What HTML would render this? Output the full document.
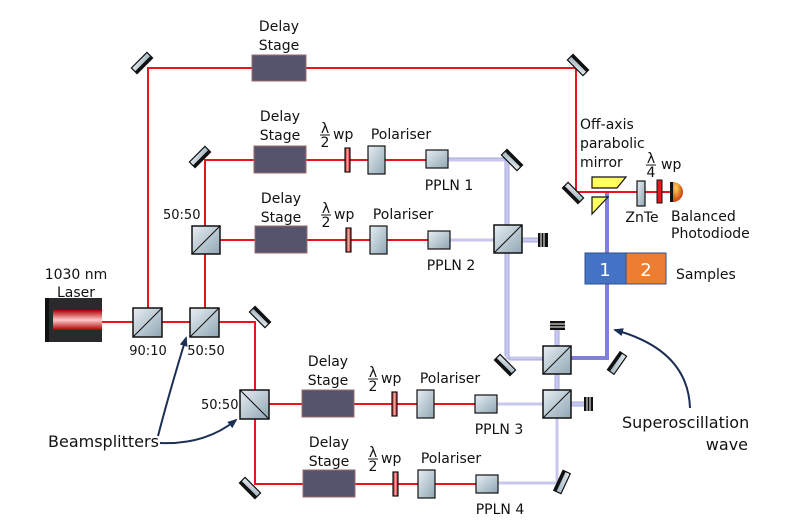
<!DOCTYPE html>
<html><head><meta charset="utf-8"><style>html,body{margin:0;padding:0;background:#fff}svg{display:block}text{font-family:"DejaVu Sans","Liberation Sans",sans-serif;font-size:14px;fill:#111}</style></head><body>
<svg width="797" height="532" viewBox="0 0 797 532" xmlns="http://www.w3.org/2000/svg">
<defs>
<linearGradient id="g" x1="0" y1="0" x2="1" y2="1"><stop offset="0" stop-color="#e8eef2"/><stop offset="1" stop-color="#8fa6b4"/></linearGradient>
<linearGradient id="r" x1="0" y1="0" x2="1" y2="0"><stop offset="0" stop-color="#b00"/><stop offset=".5" stop-color="#ffb0b0"/><stop offset="1" stop-color="#b00"/></linearGradient>
<linearGradient id="las" x1="0" y1="0" x2="0" y2="1"><stop offset="0" stop-color="#a00"/><stop offset=".5" stop-color="#ffc8c8"/><stop offset="1" stop-color="#a00"/></linearGradient>
<radialGradient id="pd" cx=".3" cy=".3" r=".8"><stop offset="0" stop-color="#ffd060"/><stop offset="1" stop-color="#c03000"/></radialGradient>
<marker id="ar" markerWidth="10" markerHeight="8" refX="8" refY="4" orient="auto" markerUnits="userSpaceOnUse"><path d="M0,0 L10,4 L0,8 Z" fill="#1b2f55"/></marker>
<g id="mir"><rect x="-11" y="-4" width="22" height="8" fill="url(#g)" stroke="#111" stroke-width="1.2"/><rect x="-11" y="1" width="22" height="3" fill="#111"/></g>
</defs>
<!-- lavender beams -->
<g stroke="#c8c8ec" stroke-width="3" fill="none">
<path d="M448,160 H507 V358 H545"/><path d="M450,240 H540"/><path d="M497,404 H585"/><path d="M498,483 H557 V418"/><path d="M557,374 V390"/><path d="M557,346 V330"/>
</g>
<g stroke="#a8a8e0" stroke-width="1" fill="none">
<path d="M448,158 H505 V356"/><path d="M509,162 V360 H545"/><path d="M522,238 H540 M522,242 H540"/><path d="M571,402 H585 M571,406 H585"/><path d="M555,374 V390 M559,374 V390"/><path d="M555,346 V330 M559,346 V330"/>
</g>
<path d="M571,358 H607 V192" stroke="#8080d8" stroke-width="4" fill="none"/>
<!-- red beams -->
<g stroke="#e8141e" stroke-width="2" fill="none">
<path d="M102,322 H255 V484 H303"/><path d="M148,322 V68 H576 V192 H672"/><path d="M205,322 V160 H426"/><path d="M205,240 H428"/><path d="M255,404 H475"/><path d="M355,484 H476"/>
</g>
<!-- laser -->
<rect x="45" y="298" width="4" height="44" fill="#111"/><rect x="49" y="298" width="53" height="44" fill="#2a2a2e"/><rect x="53" y="310" width="49" height="20" fill="url(#las)"/>
<!-- mirrors -->
<use href="#mir" transform="translate(142,63) rotate(-45)"/>
<use href="#mir" transform="translate(578,65) rotate(225)"/>
<use href="#mir" transform="translate(200,157) rotate(-45)"/>
<use href="#mir" transform="translate(512,160) rotate(225)"/>
<use href="#mir" transform="translate(260,317) rotate(225)"/>
<use href="#mir" transform="translate(250,488) rotate(45)"/>
<use href="#mir" transform="translate(573,193) rotate(45)"/>
<use href="#mir" transform="translate(505,365) rotate(45)"/>
<use href="#mir" transform="translate(617,363) rotate(125)"/>
<use href="#mir" transform="translate(562,482) rotate(115)"/>
<!-- beamsplitters -->
<g fill="url(#g)" stroke="#111" stroke-width="1.5">
<rect x="133" y="308" width="29" height="29"/><rect x="190" y="308" width="29" height="29"/><rect x="192" y="226" width="28" height="28"/><rect x="240" y="390" width="29" height="29"/><rect x="494" y="225" width="28" height="28"/><rect x="543" y="346" width="28" height="28"/><rect x="543" y="390" width="28" height="28"/>
</g>
<g stroke="#111" stroke-width="1">
<path d="M133,337 L162,308 M190,337 L219,308 M192,254 L220,226 M240,390 L269,419 M494,253 L522,225 M543,374 L571,346 M543,418 L571,390"/>
</g>
<!-- beam dumps -->
<g fill="#111"><rect x="538" y="233" width="10" height="14"/><rect x="584" y="397" width="9" height="14"/><rect x="550" y="321" width="15" height="9"/></g>
<g stroke="#fff" stroke-width="1"><path d="M541,233 V247 M544,233 V247 M587,397 V411 M590,397 V411 M550,324 H565 M550,327 H565"/></g>
<!-- delay stages -->
<g fill="#55546c" stroke="#9a6a6a" stroke-width="1">
<rect x="252" y="55" width="54" height="26"/><rect x="254" y="146" width="52" height="27"/><rect x="255" y="226" width="52" height="27"/><rect x="302" y="390" width="52" height="27"/><rect x="303" y="470" width="52" height="27"/>
</g>
<!-- waveplates -->
<g fill="url(#r)" stroke="#111" stroke-width="1.2">
<rect x="345" y="148" width="5" height="24"/><rect x="346" y="228" width="5" height="24"/><rect x="392" y="392" width="5" height="24"/><rect x="393" y="472" width="5" height="24"/>
</g>
<!-- polarisers & PPLN -->
<g fill="url(#g)" stroke="#111" stroke-width="1.2">
<rect x="368" y="146" width="17" height="28"/><rect x="370" y="226" width="17" height="28"/><rect x="417" y="390" width="17" height="28"/><rect x="418" y="470" width="17" height="28"/>
<rect x="426" y="150" width="22" height="18"/><rect x="428" y="231" width="22" height="18"/><rect x="475" y="395" width="22" height="18"/><rect x="476" y="475" width="22" height="18"/>
<rect x="637" y="181" width="8" height="25"/>
</g>
<!-- OAP, wp, PD -->
<path d="M592,177 H626 L617,188 H592 Z" fill="#ffff60" stroke="#111" stroke-width="1.2"/>
<path d="M592,197 H608 L592,214 Z" fill="#ffff60" stroke="#111" stroke-width="1.2"/>
<rect x="657" y="180" width="5" height="23" fill="#e8141e" stroke="#111"/>
<rect x="670" y="182" width="3" height="20" fill="#111"/>
<path d="M673,182 A10,10 0 0 1 673,202 Z" fill="url(#pd)"/>
<!-- samples -->
<rect x="585" y="253" width="41" height="31" fill="#4472c4" stroke="#2f528f"/><rect x="626" y="253" width="40" height="31" fill="#ed7d31" stroke="#2f528f"/>
<text x="605" y="276" text-anchor="middle" style="fill:#fff;font-size:18px">1</text><text x="646" y="276" text-anchor="middle" style="fill:#fff;font-size:18px">2</text>
<!-- arrows -->
<g stroke="#1b2f55" stroke-width="2" fill="none" marker-end="url(#ar)">
<path d="M158,436 Q170,390 186,338"/><path d="M160,443 Q205,445 236,420"/><path d="M690,408 Q688,350 615,330"/>
</g>
<!-- labels -->
<g text-anchor="middle">
<text x="279" y="31">Delay</text><text x="279" y="50">Stage</text>
<text x="280" y="121">Delay</text><text x="280" y="140">Stage</text>
<text x="281" y="203">Delay</text><text x="281" y="222">Stage</text>
<text x="328" y="366">Delay</text><text x="328" y="385">Stage</text>
<text x="329" y="447">Delay</text><text x="329" y="466">Stage</text>
<text x="401" y="139">Polariser</text><text x="403" y="219">Polariser</text><text x="450" y="383">Polariser</text><text x="451" y="463">Polariser</text>
<text x="449" y="190">PPLN 1</text><text x="451" y="270">PPLN 2</text><text x="499" y="434">PPLN 3</text><text x="500" y="514">PPLN 4</text>
<text x="76" y="279">1030 nm</text><text x="76" y="297">Laser</text>
<text x="148" y="355" style="font-size:13px">90:10</text><text x="206" y="355" style="font-size:13px">50:50</text>
<text x="642" y="222">ZnTe</text>
</g>
<text x="163" y="219" style="font-size:13px">50:50</text><text x="201" y="409" style="font-size:13px">50:50</text>
<text x="580" y="129">Off-axis</text><text x="580" y="148">parabolic</text><text x="580" y="167">mirror</text>
<text x="671" y="221">Balanced</text><text x="671" y="238">Photodiode</text>
<text x="676" y="279">Samples</text>
<text x="48" y="447" style="font-size:16px">Beamsplitters</text>
<text x="622" y="428" style="font-size:16px">Superoscillation</text><text x="748" y="450" text-anchor="end" style="font-size:16px">wave</text>
<!-- lambda fractions -->
<g style="font-size:14px" text-anchor="middle">
<text x="325" y="133">λ</text><text x="325" y="147">2</text><path d="M320,135 H330" stroke="#111"/><text x="333" y="139" text-anchor="start">wp</text>
<text x="326" y="213">λ</text><text x="326" y="227">2</text><path d="M321,215 H331" stroke="#111"/><text x="334" y="219" text-anchor="start">wp</text>
<text x="373" y="377">λ</text><text x="373" y="391">2</text><path d="M368,379 H378" stroke="#111"/><text x="381" y="383" text-anchor="start">wp</text>
<text x="373" y="457">λ</text><text x="373" y="471">2</text><path d="M368,459 H378" stroke="#111"/><text x="381" y="463" text-anchor="start">wp</text>
<text x="651" y="163">λ</text><text x="651" y="177">4</text><path d="M646,165 H656" stroke="#111"/><text x="661" y="169" text-anchor="start">wp</text>
</g>
</svg>
</body></html>
